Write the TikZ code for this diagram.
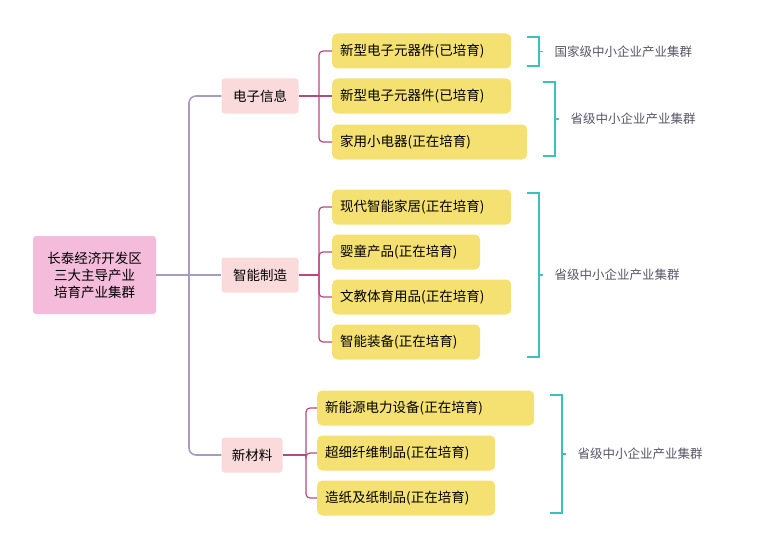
\documentclass[tikz,border=0pt]{standalone}
\usepackage{fontspec}
\setmainfont{Noto Sans CJK SC}
\begin{document}
\begin{tikzpicture}[x=1pt,y=-1pt,
  every node/.style={font=\fontsize{13.5}{17}\selectfont},
  root/.style={fill=rootc,rounded corners=3,draw=none,align=center,inner sep=0},
  lvl/.style={fill=lvlc,rounded corners=3,draw=none,minimum height=35,inner xsep=5},
  leaf/.style={fill=leafc,rounded corners=5,draw=none,minimum height=35,anchor=west,inner xsep=8,align=left},
  trunk/.style={draw=trunkc,line width=1.6,rounded corners=7},
  sub/.style={draw=subc,line width=1.2,rounded corners=4},
  brk/.style={draw=brkc,line width=1.1},
  lab/.style={text=labc,anchor=west,font=\fontsize{12.5}{15}\selectfont}]
\definecolor{rootc}{HTML}{F4BBDA}
\definecolor{lvlc}{HTML}{FADADA}
\definecolor{leafc}{HTML}{F5E172}
\definecolor{trunkc}{HTML}{A89BC2}
\definecolor{subc}{HTML}{B54A7E}
\definecolor{brkc}{HTML}{3FC0C0}
\definecolor{labc}{HTML}{555566}
\useasboundingbox (0,0) rectangle (771,551);
\node[root,minimum width=123,minimum height=78] (r) at (94.5,275) {长泰经济开发区\\三大主导产业\\培育产业集群};
\node[lvl,minimum width=77] (a) at (260,96) {电子信息};
\node[lvl,minimum width=77] (b) at (260,275) {智能制造};
\node[lvl,minimum width=61] (c) at (252,455) {新材料};
\node[leaf,text width=163] (a1) at (332,51) {新型电子元器件(已培育)};
\node[leaf,text width=163] (a2) at (332,96) {新型电子元器件(已培育)};
\node[leaf,text width=179] (a3) at (332,142) {家用小电器(正在培育)};
\node[leaf,text width=163] (b1) at (332,207) {现代智能家居(正在培育)};
\node[leaf,text width=132] (b2) at (332,252) {婴童产品(正在培育)};
\node[leaf,text width=163] (b3) at (332,297) {文教体育用品(正在培育)};
\node[leaf,text width=132] (b4) at (332,342) {智能装备(正在培育)};
\node[leaf,text width=201] (c1) at (317,408) {新能源电力设备(正在培育)};
\node[leaf,text width=162] (c2) at (317,453) {超细纤维制品(正在培育)};
\node[leaf,text width=162] (c3) at (317,498) {造纸及纸制品(正在培育)};
\path[trunk] (r.east) -- (b.west);
\path[trunk] (a.west) -- (189,96) -- (189,455) -- (c.west);
\path[sub] (a.east) -- (a2.west);
\path[sub] (319,96) |- (a1.west);
\path[sub] (319,96) |- (a3.west);
\path[sub] (b.east) -- (319,275);
\foreach \n in {b1,b2,b3,b4}{\path[sub] (319,275) |- (\n.west);}
\path[sub] (c.east) -- (306,455);
\foreach \n in {c1,c2,c3}{\path[sub] (306,455) |- (\n.west);}
\foreach \xa/\ya/\yb/\t [count=\i] in {527/37/66/国家级中小企业产业集群,543/82/156/省级中小企业产业集群,527/193/357/省级中小企业产业集群,550/395/513/省级中小企业产业集群}{
  \path[brk] (\xa,\ya) -- (\xa+12,\ya) -- (\xa+12,\yb) -- (\xa,\yb);
  \path[brk] (\xa+12,{(\ya+\yb)/2}) -- (\xa+16,{(\ya+\yb)/2});
  \node[lab] (l\i) at (\xa+24,{(\ya+\yb)/2}) {\t};
}
\end{tikzpicture}
\end{document}
